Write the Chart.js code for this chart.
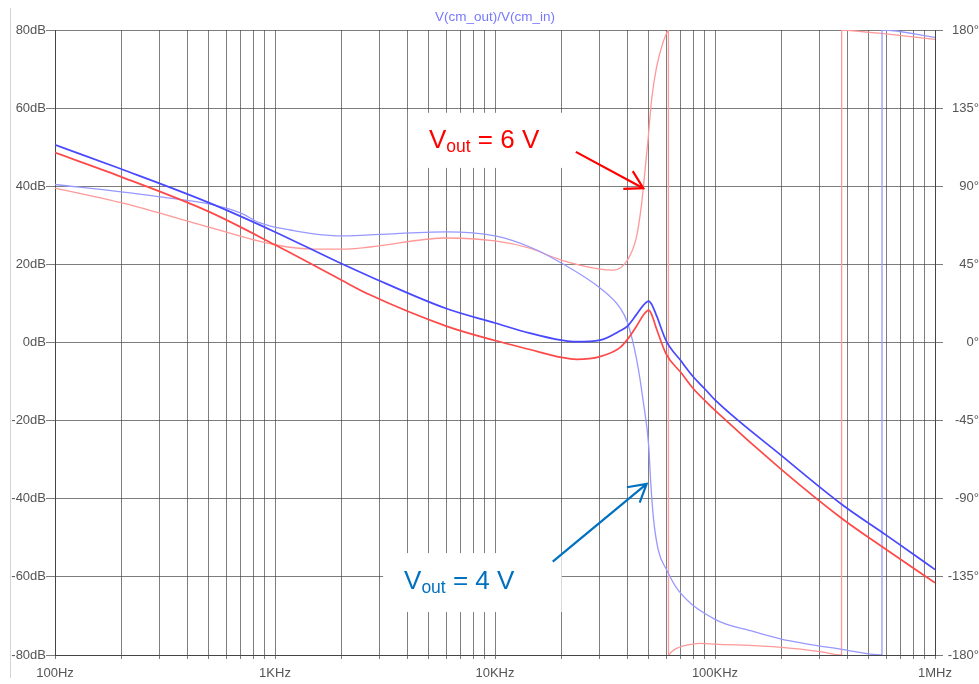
<!DOCTYPE html>
<html lang="pt-BR">
<head>
<meta charset="utf-8">
<title>V(cm_out)/V(cm_in)</title>
<script src="https://cdn.jsdelivr.net/npm/chart.js@4.4.1/dist/chart.umd.min.js"></script>
<style>
  body { margin: 0; background: #fff; }
  #quadro { position: relative; width: 979px; height: 684px; }
  #grafico { display: block; }
  #borda { position: absolute; left: 10px; top: 8px; width: 1px; height: 670px; background: #d4d4d4; }
</style>
</head>
<body>
<div id="quadro">
  <canvas id="grafico" width="979" height="684"></canvas>
  <div id="borda"></div>
</div>
<script>
// 1. Dados (frequência em Hz)
const freqMag = [100, 200, 500, 1000, 2000, 2700, 6000, 10000, 14400, 20000, 23500, 30000, 37000, 40000, 44000,
  47200, 50000, 51500, 54300, 60000, 70000, 80000, 90000, 100000, 200000, 376000, 600000, 1000000];
// magnitude em dB
const magAzul = [50.6, 44.4, 35.8, 28.3, 20.2, 16.9, 8.7, 5.0, 2.4, 0.6, 0.2, 0.6, 3.0, 4.2, 7.2,
  9.5, 10.6, 9.8, 6.8, 0.4, -4.7, -8.9, -11.9, -14.7, -28.9, -41.4, -49.3, -58.1];
const magVermelho = [48.6, 42.4, 33.5, 25, 16, 12.2, 4.2, 0.5, -1.8, -3.8, -4.3, -3.6, -1.3, 0.8, 4.2,
  7.0, 8.3, 7.2, 3.4, -3.0, -7.7, -11.9, -14.9, -17.4, -32.5, -45, -53, -61.5];

// fase em graus (Vout = 4 V)
const freqFaseAzul = [100, 200, 300, 500, 700, 850, 1000, 1170, 1500, 2000, 2700, 6000, 10000, 14400, 20000,
  30000, 37000, 40000, 44000, 47200, 50000, 51000, 52500, 55200, 60300, 68000, 100000, 150000, 200000, 376000,
  574000, 574500, 1000000];
const faseAzul = [91, 86.8, 83.9, 79.8, 74.5, 69, 66.4, 64.8, 62.6, 61.4, 62, 63.7, 61.4, 55, 45.8,
  31.4, 20, 11.5, -9.6, -34, -60, -80, -101, -119.5, -131, -142.6, -159.5, -166.5, -170.8, -176.7,
  -180, 180, 175.8];

// fase em graus (Vout = 6 V)
const freqFaseVermelho = [100, 200, 300, 500, 1000, 1500, 2000, 2700, 6000, 10000, 14400, 20000, 30000, 34500, 40000,
  44000, 46400, 47200, 49600, 51500, 54300, 58200, 60700, 61400, 61450, 63500, 66900, 71800, 85500, 100000,
  200000, 300000, 376000, 376500, 411000, 572000, 1000000];
const faseVermelho = [88.9, 80.5, 74.5, 66.5, 56.3, 53.8, 53.8, 55, 60.2, 58.5, 54.3, 47.5, 42.3, 41.7, 47.5,
  61, 80, 89, 116.6, 139.8, 158.9, 173.3, 179, 180, -180, -178.1, -176.2, -174.8, -173.3, -173.7,
  -175.6, -178, -180, 180, 179.7, 178, 174.6];

// eixos
const decadas = [100, 1000, 10000, 100000, 1000000];
const rotulosX = ['100Hz', '1KHz', '10KHz', '100KHz', '1MHz'];
const valoresDb = [-80, -60, -40, -20, 0, 20, 40, 60, 80];
const valoresGraus = [-180, -135, -90, -45, 0, 45, 90, 135, 180];

// 2. Anotações (posições em coordenadas do gráfico: Hz e dB)
const notas = [
  { cor: '#ff0000', partes: ['V', 'out', ' = 6 V'], pos: [5010, 49.9],
    caixa: [4020, 20200, 58.8, 44.7], seta: [[23300, 48.8], [47200, 39.5]] },
  { cor: '#0070c0', partes: ['V', 'out', ' = 4 V'], pos: [3860, -63.1],
    caixa: [3100, 20100, -53.9, -69], seta: [[18300, -56.1], [48900, -36.2]] }
];

function montarPontos(freqs, valores) {
  return freqs.map((f, i) => ({ x: f, y: valores[i] }));
}

// marcas do eixo x: 1..9 em cada década
function marcasLog() {
  let marcas = [];
  for (let d = 0; d < decadas.length - 1; d++) {
    for (let m = 1; m <= 9; m++) {
      marcas.push({ value: decadas[d] * m });
    }
  }
  marcas.push({ value: decadas[decadas.length - 1] });
  return marcas;
}

function desenharSeta(ctx, x0, y0, x1, y1, cor) {
  const ang = Math.atan2(y1 - y0, x1 - x0);
  const tam = 20;
  const abertura = Math.PI / 6;
  ctx.save();
  ctx.strokeStyle = cor;
  ctx.lineWidth = 2.2;
  ctx.beginPath();
  ctx.moveTo(x0, y0);
  ctx.lineTo(x1, y1);
  ctx.moveTo(x1 - tam * Math.cos(ang - abertura), y1 - tam * Math.sin(ang - abertura));
  ctx.lineTo(x1, y1);
  ctx.lineTo(x1 - tam * Math.cos(ang + abertura), y1 - tam * Math.sin(ang + abertura));
  ctx.stroke();
  ctx.restore();
}

const pluginNotas = {
  id: 'notas',
  beforeDatasetsDraw(chart) {
    const { ctx, scales: { x, y } } = chart;
    ctx.save();
    ctx.fillStyle = '#ffffff';
    notas.forEach(n => {
      const x0 = x.getPixelForValue(n.caixa[0]);
      const x1 = x.getPixelForValue(n.caixa[1]);
      const y0 = y.getPixelForValue(n.caixa[2]);
      const y1 = y.getPixelForValue(n.caixa[3]);
      ctx.fillRect(x0, y0, x1 - x0, y1 - y0);
    });
    ctx.restore();
  },
  afterDatasetsDraw(chart) {
    const { ctx, scales: { x, y } } = chart;
    notas.forEach(n => {
      let px = x.getPixelForValue(n.pos[0]);
      const py = y.getPixelForValue(n.pos[1]);
      ctx.save();
      ctx.fillStyle = n.cor;
      ctx.textBaseline = 'alphabetic';
      ctx.font = '26px Arial, "Liberation Sans", sans-serif';
      ctx.fillText(n.partes[0], px, py);
      px += ctx.measureText(n.partes[0]).width;
      ctx.font = '17.5px Arial, "Liberation Sans", sans-serif';
      ctx.fillText(n.partes[1], px, py + 4);
      px += ctx.measureText(n.partes[1]).width;
      ctx.font = '26px Arial, "Liberation Sans", sans-serif';
      ctx.fillText(n.partes[2], px, py);
      ctx.restore();
      desenharSeta(ctx,
        x.getPixelForValue(n.seta[0][0]), y.getPixelForValue(n.seta[0][1]),
        x.getPixelForValue(n.seta[1][0]), y.getPixelForValue(n.seta[1][1]), n.cor);
    });
  }
};

// 3. Gráfico
Chart.defaults.font.family = 'Arial, "Liberation Sans", sans-serif';
const corGrade = 'rgba(70, 70, 70, 0.7)';
const corTexto = '#555555';

const ctx = document.getElementById('grafico').getContext('2d');
new Chart(ctx, {
  type: 'line',
  data: {
    datasets: [
      { label: 'Vout = 4 V (dB)', data: montarPontos(freqMag, magAzul), borderColor: '#4848ff', borderWidth: 1.7, yAxisID: 'y' },
      { label: 'Vout = 6 V (dB)', data: montarPontos(freqMag, magVermelho), borderColor: '#ff4848', borderWidth: 1.7, yAxisID: 'y' },
      { label: 'Vout = 4 V (fase)', data: montarPontos(freqFaseAzul, faseAzul), borderColor: '#9898ff', borderWidth: 1.3, yAxisID: 'y1' },
      { label: 'Vout = 6 V (fase)', data: montarPontos(freqFaseVermelho, faseVermelho), borderColor: '#ff9898', borderWidth: 1.3, yAxisID: 'y1' }
    ]
  },
  options: {
    responsive: false,
    animation: false,
    elements: {
      point: { radius: 0 },
      line: { cubicInterpolationMode: 'monotone', fill: false }
    },
    layout: { padding: 0 },
    plugins: {
      legend: { display: false },
      tooltip: { enabled: false },
      title: {
        display: true,
        fullSize: false,
        text: 'V(cm_out)/V(cm_in)',
        color: '#7878ff',
        font: { size: 13.5, weight: 'normal' },
        padding: { top: 9, bottom: 4.8 }
      }
    },
    scales: {
      x: {
        type: 'logarithmic',
        min: 100,
        max: 1000000,
        afterBuildTicks: (scale) => { scale.ticks = marcasLog(); },
        afterFit: (scale) => { scale.height = 29; },
        ticks: {
          autoSkip: false,
          maxRotation: 0,
          padding: 7,
          color: corTexto,
          font: { size: 13 },
          callback: (v) => {
            const i = decadas.indexOf(v);
            return i >= 0 ? rotulosX[i] : '';
          }
        },
        grid: { color: corGrade, lineWidth: 1, tickLength: 4 },
        border: { color: 'rgba(60, 60, 60, 0.85)', width: 1 }
      },
      y: {
        position: 'left',
        min: -80,
        max: 80,
        afterBuildTicks: (scale) => { scale.ticks = valoresDb.map(v => ({ value: v })); },
        afterFit: (scale) => { scale.width = 55; },
        ticks: { padding: 0, color: corTexto, font: { size: 13 }, callback: (v) => v + 'dB' },
        grid: { color: corGrade, lineWidth: 1, tickLength: 9 },
        border: { color: 'rgba(60, 60, 60, 0.85)', width: 1 }
      },
      y1: {
        position: 'right',
        min: -180,
        max: 180,
        afterBuildTicks: (scale) => { scale.ticks = valoresGraus.map(v => ({ value: v })); },
        afterFit: (scale) => { scale.width = 44; },
        ticks: { padding: 0, crossAlign: 'far', color: corTexto, font: { size: 13 }, callback: (v) => v + '°' },
        grid: { drawOnChartArea: false, color: corGrade, lineWidth: 1, tickLength: 8 },
        border: { color: 'rgba(60, 60, 60, 0.85)', width: 1 }
      }
    }
  },
  plugins: [pluginNotas]
});
</script>
</body>
</html>
